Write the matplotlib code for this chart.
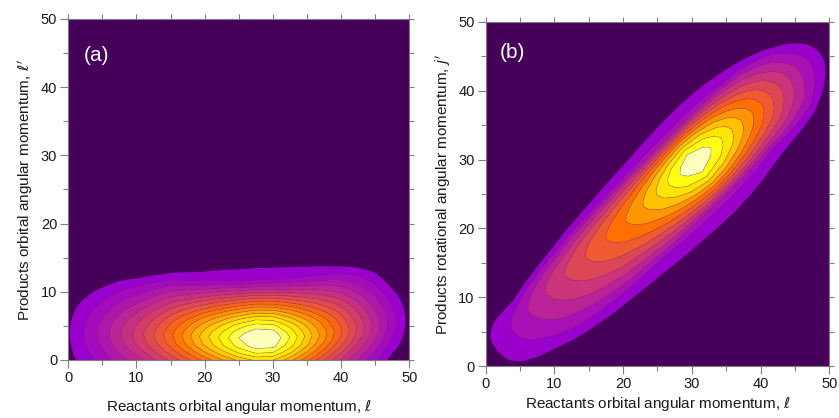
import numpy as np
import matplotlib
matplotlib.use("Agg")
import matplotlib.pyplot as plt
from matplotlib.colors import LinearSegmentedColormap

plt.rcParams['font.family'] = ['Liberation Sans', 'DejaVu Sans']
plt.rcParams['mathtext.fontset'] = 'dejavusans'

# ---------------- Panel (a): values ----------------
a_col_x = [0, 2.5, 5, 7.5, 10, 12.5, 15, 17.5, 20, 22.5, 25, 27.5, 30, 32.5, 35, 37.5, 40, 42.5, 45, 47.5, 50]
a_ridge_level = [0.9, 2.1, 3.4, 4.9, 6.35, 7.95, 9.75, 11.65, 13.6, 15.35, 17.0, 18.1, 17.9, 16.0, 13.7, 11.4, 9.1, 6.8, 4.6, 2.4, 0.6]
a_ridge_y = [4.0, 4.0, 4.0, 3.9, 3.8, 3.7, 3.6, 3.5, 3.4, 3.3, 3.25, 3.2, 3.2, 3.3, 3.5, 3.8, 4.2, 4.6, 5.0, 5.5, 5.8]
a_up_spread = [0.89, 0.89, 0.92, 0.97, 0.98, 1.01, 1.03, 0.99, 0.97, 0.97, 0.96, 0.97, 0.98, 1.0, 1.03, 1.06, 1.09, 1.06, 1.0, 0.78, 0.7]
a_dn_spread = [1.0, 1.0, 1.0, 1.0, 1.0, 1.0, 1.0, 1.0, 1.0, 1.0, 1.0, 1.0, 1.0, 1.0, 1.0, 0.97, 0.94, 0.9, 0.85, 0.7, 0.7]
a_up_dy = [0, 0.8, 1.8, 2.8, 3.8, 4.8, 5.8, 6.8, 7.8, 8.8, 9.8, 10.8, 11.8, 12.8, 13.8, 40]
a_up_frac = [1.0, 0.975, 0.915, 0.825, 0.715, 0.595, 0.47, 0.345, 0.215, 0.105, 0.075, 0.05, 0.03, 0.012, 0.0, 0.0]
a_dn_dy = [0, 1.2, 2.2, 3.2, 4.2, 5.5, 6.5, 7.5, 9, 20]
a_dn_frac = [1.0, 0.965, 0.885, 0.785, 0.67, 0.52, 0.4, 0.3, 0.15, 0.0]
a_levels = [1, 2, 3, 4, 5, 6, 7, 8, 9, 10, 11, 12, 13, 14, 15, 16, 17, 30]

# ---------------- Panel (b): values ----------------
b_peak = (30.3, 29.6)        # position of the maximum (l, j')
b_axis_slope = 0.88          # slope of the ridge through the maximum
# distance along the ridge, level on the ridge, sideways shift of the outline,
# distance of the outer edge on the upper-left / lower-right side
b_u = [-42, -39.6, -39.4, -39, -38, -37, -36, -33, -30, -27, -24, -21, -18, -15, -12, -9, -6, -3, 0,
       3, 6, 9, 12, 15, 18, 21, 22.7, 23.5, 24, 24.3, 26]
b_ridge_level = [0.3, 1.0, 1.05, 1.15, 1.45, 1.72, 2.0, 2.83, 3.69, 4.49, 5.25, 6.0, 6.75, 7.51, 8.31, 9.26, 10.5, 11.9, 12.9,
                 12.1, 10.7, 9.1, 7.57, 5.9, 4.26, 2.6, 1.8, 1.4, 1.15, 1.0, 0.3]
b_shift = [-1.76, -1.76, -1.76, -1.76, -1.6, -1.4, -1.2, -0.6, -0.2, 0, 0, 0, 0, 0, 0, 0, 0, 0, 0,
           0, 0, 0, 0, 0, 0, 0, 0.2, 0.1, 0, 0, 0]
b_edge_nw = [0.05, 0.05, 1.47, 2.3, 3.0, 3.2, 3.2, 2.9, 3.3, 3.7, 4.2, 4.8, 5.2, 5.6, 6.0, 6.35, 6.7, 7.05, 7.35,
             7.55, 7.6, 7.45, 7.1, 6.55, 5.7, 4.3, 2.9, 2.1, 1.3, 0.05, 0.05]
b_edge_se = [0.05, 0.05, 1.47, 2.3, 3.5, 4.2, 4.9, 6.4, 7.6, 8.3, 8.65, 8.85, 9.0, 9.1, 9.25, 9.35, 9.4, 9.4, 9.3,
             9.0, 8.5, 7.8, 7.25, 6.8, 6.1, 4.6, 3.3, 2.3, 1.4, 0.05, 0.05]
b_prof_r = [0, 0.1, 0.2, 0.3, 0.4, 0.5, 0.6, 0.7, 0.8, 0.9, 1.0, 1.1, 1.25, 5]
b_prof_frac = [1.0, 0.98, 0.93, 0.85, 0.74, 0.6, 0.44, 0.24, 0.15, 0.108, 0.078, 0.045, 0.0, 0.0]
b_levels = [1, 2, 3, 4, 5, 6, 7, 8, 9, 10, 11, 12, 30]

tick_major = [0, 10, 20, 30, 40, 50]
tick_minor = [5, 15, 25, 35, 45]

background = '#46005a'
anchors = ['#9a00cc', '#a910b6', '#ba2398', '#cb3379', '#dd4655', '#f05a30', '#ff7000',
           '#ff9600', '#ffc000', '#ffe600', '#ffff10', '#ffffbe']
cmap = LinearSegmentedColormap.from_list('custom', anchors)

# ---------------- build the gridded tables for contourf ----------------
gx = np.linspace(0, 50, 401)
gy = np.linspace(0, 50, 401)
XX, YY = np.meshgrid(gx, gy)

R = np.interp(XX, a_col_x, a_ridge_level)
yc = np.interp(XX, a_col_x, a_ridge_y)
su = np.interp(XX, a_col_x, a_up_spread)
sd = np.interp(XX, a_col_x, a_dn_spread)
dy = YY - yc
frac = np.where(dy >= 0, np.interp(dy / su, a_up_dy, a_up_frac),
                np.interp(-dy / sd, a_dn_dy, a_dn_frac))
Za = R * frac

# panel (b): coordinates along / across the ridge
th = np.arctan(b_axis_slope)
U = (XX - b_peak[0]) * np.cos(th) + (YY - b_peak[1]) * np.sin(th)
V = -(XX - b_peak[0]) * np.sin(th) + (YY - b_peak[1]) * np.cos(th)
Rb = np.interp(U, b_u, b_ridge_level)
V0 = np.interp(U, b_u, b_shift)
Wn = np.interp(U, b_u, b_edge_nw)
Ws = np.interp(U, b_u, b_edge_se)
r_edge = np.interp(1.0 / np.maximum(Rb, 1.02), b_prof_frac[::-1], b_prof_r[::-1])
Vc = V - V0
rr = np.where(Vc >= 0, Vc / Wn, -Vc / Ws) * r_edge
Zb = Rb * np.interp(rr, b_prof_r, b_prof_frac)

fig = plt.figure(figsize=(8.39, 4.18), dpi=100)
axA = fig.add_axes([0.0814, 0.1388, 0.4064, 0.8158])
axB = fig.add_axes([0.5789, 0.1244, 0.4095, 0.8230])


def draw(ax, Z, levels):
    n = len(levels) - 1
    cols = [cmap(i / (n - 1)) for i in range(n)]
    ax.set_facecolor(background)
    ax.contourf(XX, YY, Z, levels=levels, colors=cols, antialiased=True)
    ax.contour(XX, YY, Z, levels=levels[1:-1], colors='#8a3a80', linewidths=0.5, alpha=0.35)
    ax.set_xlim(0, 50)
    ax.set_ylim(0, 50)
    ax.set_xticks(tick_major)
    ax.set_xticks(tick_minor, minor=True)
    ax.set_yticks(tick_major)
    ax.set_yticks(tick_minor, minor=True)
    ax.tick_params(which='major', direction='out', length=6, width=0.8, color='#7f7f7f',
                   labelsize=10.5, labelcolor='#1a1a1a', pad=2)
    ax.tick_params(which='minor', direction='out', length=3.5, width=0.8, color='#7f7f7f')
    for s in ax.spines.values():
        s.set_color('#7f7f7f')
        s.set_linewidth(0.8)
    top = ax.secondary_xaxis('top')
    top.set_xticks(tick_major + tick_minor)
    top.tick_params(direction='out', length=3.5, width=0.8, color='#7f7f7f', labeltop=False)
    top.spines['top'].set_visible(False)
    right = ax.secondary_yaxis('right')
    right.set_yticks(tick_major + tick_minor)
    right.tick_params(direction='out', length=3.5, width=0.8, color='#7f7f7f', labelright=False)
    right.spines['right'].set_visible(False)


draw(axA, Za, a_levels)
draw(axB, Zb, b_levels)

axA.set_xlabel(r'Reactants orbital angular momentum, $\ell$', fontsize=11, labelpad=9, color='#1a1a1a')
axA.set_ylabel(r"Products orbital angular momentum, $\ell'$", fontsize=11, labelpad=4, color='#1a1a1a')
axB.set_xlabel(r'Reactants orbital angular momentum, $\ell$', fontsize=11, labelpad=3, color='#1a1a1a')
axB.set_ylabel(r"Products rotational angular momentum, $j'$", fontsize=11, labelpad=4, color='#1a1a1a')

axA.text(2.3, 44.7, '(a)', color='white', fontsize=15, va='center', ha='left')
axB.text(2.0, 45.6, '(b)', color='white', fontsize=15, va='center', ha='left')

fig.savefig('out.png', dpi=100)
